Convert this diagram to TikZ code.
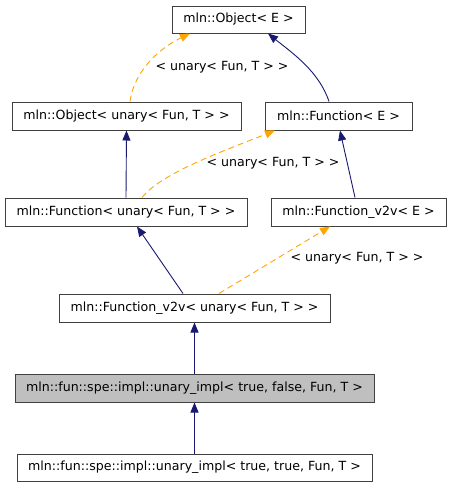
\documentclass[tikz,border=0pt]{standalone}
\usepackage{fontspec}
\setmainfont{DejaVu Sans}
\usetikzlibrary{arrows.meta}
\tikzset{cls/.style={draw=black!75,line width=1pt,fill=white,inner sep=0pt,font=\fontsize{12.6}{14}\selectfont},
         cur/.style={cls,fill=black!25},
         inh/.style={draw={rgb,255:red,25;green,25;blue,112},line width=0.9pt,-{Triangle[length=10pt,width=8pt]}},
         tpl/.style={draw={rgb,255:red,255;green,165;blue,0},line width=0.9pt,dash pattern=on 6pt off 4pt,-{Triangle[length=10pt,width=8pt]}},
         lbl/.style={font=\fontsize{12.6}{14}\selectfont}}

\begin{document}
\begin{tikzpicture}[x=1pt,y=-1pt]
            \useasboundingbox (0,0) rectangle (451,488);

            \node[cls,minimum width=133,minimum height=27] (objE)  at (238.5,19.5) {mln::Object< E >};
            \node[cls,minimum width=229,minimum height=28] (objU)  at (126.5,116)  {mln::Object< unary< Fun, T > >};
            \node[cls,minimum width=147,minimum height=28] (funE)  at (338.5,116)  {mln::Function< E >};
            \node[cls,minimum width=242,minimum height=28] (funU)  at (126,212)    {mln::Function< unary< Fun, T > >};
            \node[cls,minimum width=175,minimum height=28] (vvE)   at (358.5,212)  {mln::Function\_v2v< E >};
            \node[cls,minimum width=271,minimum height=28] (vvU)   at (194.5,308)  {mln::Function\_v2v< unary< Fun, T > >};
            \node[cur,minimum width=359,minimum height=28] (implF) at (194.5,388)  {mln::fun::spe::impl::unary\_impl< true, false, Fun, T >};
            \node[cls,minimum width=355,minimum height=27] (implT) at (194.5,467.5){mln::fun::spe::impl::unary\_impl< true, true, Fun, T >};

            \draw[tpl] ([xshift=3.5]objU.north) .. controls +(5,-35) and +(-25,12) .. ([xshift=-48.5]objE.south);
            \draw[inh] ([xshift=-9.5]funE.north) .. controls +(-10,-30) and +(25,20) .. ([xshift=29.5]objE.south);
            \draw[inh] (funU.north) -- (objU.south);
            \draw[tpl] ([xshift=16]funU.north) .. controls +(20,-25) and +(-50,20) .. ([xshift=-63.5]funE.south);
            \draw[inh] ([xshift=-3.5]vvE.north) -- ([xshift=1.5]funE.south);
            \draw[inh] ([xshift=-11.5]vvU.north) -- ([xshift=11]funU.south);
            \draw[tpl] ([xshift=24.5]vvU.north) -- ([xshift=-28.5]vvE.south);
            \draw[inh] (implF.north) -- (vvU.south);
            \draw[inh] (implT.north) -- (implF.south);

            \node[lbl] (l1) at (222,67)  {< unary< Fun, T > >};
            \node[lbl] (l2) at (273,163) {< unary< Fun, T > >};
            \node[lbl] (l3) at (357,258) {< unary< Fun, T > >};
        \end{tikzpicture}
\end{document}
